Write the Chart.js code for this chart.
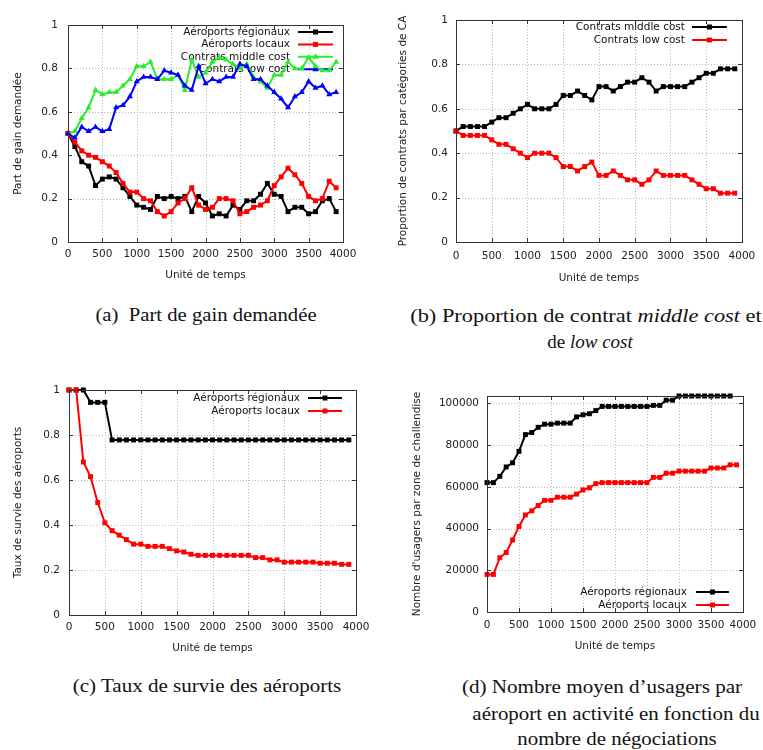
<!DOCTYPE html>
<html>
<head>
<meta charset="utf-8">
<script src="https://cdn.jsdelivr.net/npm/chart.js@4.4.0/dist/chart.umd.min.js"></script>
<style>
body { margin: 0; background: #fff; }
#page { position: relative; width: 763px; height: 750px; overflow: hidden; background: #fff; }
canvas { position: absolute; }
.cap { position: absolute; font-family: "Liberation Serif", "Times New Roman", serif; font-size: 19px;
       white-space: nowrap; color: #111; transform: translate(-50%, -50%); }
</style>
</head>
<body>
<div id="page">
  <div class="cap" data-w="221" style="left:206px; top:315px;">(a)&nbsp; Part de gain demandée</div>
  <div class="cap" data-w="352" style="left:586px; top:316px;">(b) Proportion de contrat <i>middle cost</i> et</div>
  <div class="cap" data-w="86" style="left:590px; top:342px;">de <i>low cost</i></div>
  <div class="cap" data-w="269" style="left:207px; top:686px;">(c) Taux de survie des aéroports</div>
  <div class="cap" data-w="280" style="left:602px; top:687px;">(d) Nombre moyen d’usagers par</div>
  <div class="cap" data-w="287" style="left:616px; top:714px;">aéroport en activité en fonction du</div>
  <div class="cap" data-w="200" style="left:617px; top:739px;">nombre de négociations</div>
</div>
<script>
// time steps shared by all four panels
const times = [0, 100, 200, 300, 400, 500, 600, 700, 800, 900,
               1000, 1100, 1200, 1300, 1400, 1500, 1600, 1700, 1800, 1900,
               2000, 2100, 2200, 2300, 2400, 2500, 2600, 2700, 2800, 2900,
               3000, 3100, 3200, 3300, 3400, 3500, 3600, 3700, 3800, 3900];

// tick labels
const xTicks = [0, 500, 1000, 1500, 2000, 2500, 3000, 3500, 4000];
const fracTicks = [0, 0.2, 0.4, 0.6, 0.8, 1];
const usagerTicks = [0, 20000, 40000, 60000, 80000, 100000];

// (a) part de gain demandee
const regA = [0.50, 0.44, 0.37, 0.35, 0.26, 0.29, 0.30, 0.29, 0.25, 0.21,
              0.17, 0.16, 0.15, 0.21, 0.20, 0.21, 0.20, 0.21, 0.14, 0.21,
              0.18, 0.12, 0.13, 0.12, 0.17, 0.15, 0.19, 0.19, 0.22, 0.27,
              0.22, 0.21, 0.14, 0.16, 0.16, 0.13, 0.14, 0.19, 0.20, 0.14];
const locA = [0.50, 0.46, 0.42, 0.40, 0.39, 0.37, 0.35, 0.32, 0.27, 0.23,
              0.23, 0.20, 0.19, 0.14, 0.12, 0.14, 0.18, 0.20, 0.25, 0.17,
              0.15, 0.16, 0.20, 0.20, 0.19, 0.13, 0.14, 0.16, 0.17, 0.19,
              0.26, 0.30, 0.34, 0.31, 0.27, 0.21, 0.19, 0.20, 0.28, 0.25];
const midA = [0.50, 0.51, 0.57, 0.62, 0.70, 0.68, 0.69, 0.69, 0.72, 0.75,
              0.81, 0.81, 0.83, 0.75, 0.75, 0.75, 0.77, 0.70, 0.84, 0.76,
              0.78, 0.83, 0.85, 0.84, 0.82, 0.80, 0.82, 0.76, 0.74, 0.71,
              0.77, 0.77, 0.83, 0.80, 0.80, 0.85, 0.81, 0.79, 0.79, 0.83];
const lowA = [0.50, 0.48, 0.53, 0.51, 0.53, 0.51, 0.52, 0.62, 0.63, 0.67,
              0.74, 0.76, 0.76, 0.75, 0.79, 0.78, 0.77, 0.72, 0.70, 0.81,
              0.73, 0.75, 0.74, 0.76, 0.76, 0.82, 0.81, 0.75, 0.75, 0.72,
              0.69, 0.66, 0.62, 0.67, 0.69, 0.74, 0.71, 0.72, 0.68, 0.69];

// (b) proportion de contrats
const midB = [0.50, 0.52, 0.52, 0.52, 0.52, 0.54, 0.56, 0.56, 0.58, 0.60,
              0.62, 0.60, 0.60, 0.60, 0.62, 0.66, 0.66, 0.68, 0.66, 0.64,
              0.70, 0.70, 0.68, 0.70, 0.72, 0.72, 0.74, 0.72, 0.68, 0.70,
              0.70, 0.70, 0.70, 0.72, 0.74, 0.76, 0.76, 0.78, 0.78, 0.78];
const lowB = [0.50, 0.48, 0.48, 0.48, 0.48, 0.46, 0.44, 0.44, 0.42, 0.40,
              0.38, 0.40, 0.40, 0.40, 0.38, 0.34, 0.34, 0.32, 0.34, 0.36,
              0.30, 0.30, 0.32, 0.30, 0.28, 0.28, 0.26, 0.28, 0.32, 0.30,
              0.30, 0.30, 0.30, 0.28, 0.26, 0.24, 0.24, 0.22, 0.22, 0.22];

// (c) taux de survie
const regC = [1, 1, 1, 0.945, 0.945, 0.945, 0.778, 0.778, 0.778, 0.778,
              0.778, 0.778, 0.778, 0.778, 0.778, 0.778, 0.778, 0.778, 0.778, 0.778,
              0.778, 0.778, 0.778, 0.778, 0.778, 0.778, 0.778, 0.778, 0.778, 0.778,
              0.778, 0.778, 0.778, 0.778, 0.778, 0.778, 0.778, 0.778, 0.778, 0.778];
const locC = [1, 1, 0.68, 0.615, 0.50, 0.41, 0.375, 0.355, 0.335, 0.315,
              0.315, 0.305, 0.305, 0.305, 0.295, 0.285, 0.28, 0.27, 0.265, 0.265,
              0.265, 0.265, 0.265, 0.265, 0.265, 0.265, 0.255, 0.255, 0.245, 0.245,
              0.235, 0.235, 0.235, 0.235, 0.235, 0.23, 0.23, 0.23, 0.225, 0.225];

// (d) nombre d'usagers (regionaux stops at 3800)
const regD = [62000, 62000, 65000, 69500, 71500, 77000, 85000, 86000, 88500, 90000,
              90000, 90500, 90500, 90500, 93500, 94500, 95000, 96500, 98500, 98500,
              98500, 98500, 98500, 98500, 98500, 98500, 99000, 99000, 101500, 101500,
              103500, 103500, 103500, 103500, 103500, 103500, 103500, 103500, 103500, null];
const locD = [18000, 18000, 26000, 28500, 34500, 41000, 46500, 48500, 51000, 53500,
              53500, 55000, 55000, 55000, 56500, 58500, 59500, 61500, 62000, 62000,
              62000, 62000, 62000, 62000, 62000, 62000, 64500, 64500, 66500, 66500,
              67500, 67500, 67500, 67500, 67500, 69000, 69000, 69000, 70500, 70500];

const xTitle = 'Unité de temps';
const FONT = '"DejaVu Sans", Verdana, sans-serif';
const FSIZE = 10.5;
const LH = FSIZE * 1.2;

Chart.defaults.font.family = FONT;
Chart.defaults.font.size = FSIZE;
Chart.defaults.color = '#222';

const BLACK = '#000000', RED = '#ff0000', GREEN = '#2aee2a', BLUE = '#0000ff';

// stretch the captions to the width they have in the scan
document.querySelectorAll('.cap').forEach(el => {
  const k = Number(el.dataset.w) / el.offsetWidth;
  el.style.transform = 'translate(-50%, -50%) scaleX(' + k.toFixed(3) + ')';
});

function marker(ctx, style, x, y, color) {
  ctx.fillStyle = color;
  ctx.beginPath();
  if (style === 'triangle') {
    ctx.moveTo(x, y - 3.5);
    ctx.lineTo(x + 3.2, y + 2);
    ctx.lineTo(x - 3.2, y + 2);
    ctx.closePath();
  } else {
    ctx.rect(x - 2.5, y - 2.5, 5, 5);
  }
  ctx.fill();
}

// gnuplot look: dotted grid, key with sample on the right, full border with inner ticks
const gnuFrame = {
  id: 'gnuFrame',
  beforeDatasetsDraw(chart, args, opts) {
    const {ctx, chartArea: a} = chart;
    const sx = chart.scales.x, sy = chart.scales.y;
    ctx.save();
    ctx.strokeStyle = '#b8b8b8';
    ctx.lineWidth = 1;
    ctx.setLineDash([1, 2]);
    ctx.beginPath();
    sx.ticks.forEach(t => {
      const px = Math.round(sx.getPixelForValue(t.value)) + 0.5;
      ctx.moveTo(px, a.top); ctx.lineTo(px, a.bottom);
    });
    sy.ticks.forEach(t => {
      const py = Math.round(sy.getPixelForValue(t.value)) + 0.5;
      ctx.moveTo(a.left, py); ctx.lineTo(a.right, py);
    });
    ctx.stroke();
    ctx.setLineDash([]);

    const lg = opts.legend;
    ctx.font = FSIZE + 'px ' + FONT;
    ctx.textAlign = 'right';
    ctx.textBaseline = 'middle';
    chart.data.datasets.forEach((ds, i) => {
      const yy = lg.bottom != null ? a.bottom - lg.bottom + i * lg.dy : a.top + lg.top + i * lg.dy;
      ctx.fillStyle = '#111';
      ctx.fillText(ds.label, a.right + lg.dx, yy);
      ctx.strokeStyle = ds.borderColor;
      ctx.lineWidth = 2;
      ctx.beginPath();
      ctx.moveTo(a.right + lg.s1, yy);
      ctx.lineTo(a.right + lg.s2, yy);
      ctx.stroke();
      marker(ctx, ds.pointStyle, a.right + (lg.s1 + lg.s2) / 2, yy, ds.borderColor);
    });
    ctx.restore();
  },
  afterDatasetsDraw(chart) {
    const {ctx, chartArea: a} = chart;
    const sx = chart.scales.x, sy = chart.scales.y;
    ctx.save();
    ctx.strokeStyle = '#333';
    ctx.lineWidth = 1;
    ctx.beginPath();
    sx.ticks.forEach(t => {
      const px = Math.round(sx.getPixelForValue(t.value)) + 0.5;
      ctx.moveTo(px, a.bottom); ctx.lineTo(px, a.bottom - 4);
      ctx.moveTo(px, a.top); ctx.lineTo(px, a.top + 4);
    });
    sy.ticks.forEach(t => {
      const py = Math.round(sy.getPixelForValue(t.value)) + 0.5;
      ctx.moveTo(a.left, py); ctx.lineTo(a.left + 4, py);
      ctx.moveTo(a.right, py); ctx.lineTo(a.right - 4, py);
    });
    ctx.stroke();
    ctx.strokeRect(Math.round(a.left) + 0.5, Math.round(a.top) + 0.5,
                   Math.round(a.right - a.left), Math.round(a.bottom - a.top));
    ctx.restore();
  }
};

function series(label, vals, color, style, order) {
  return {
    label: label,
    data: times.map((t, i) => ({x: t, y: vals[i]})),
    borderColor: color,
    backgroundColor: color,
    borderWidth: 2,
    pointStyle: style,
    pointRadius: 3.5,
    pointBorderWidth: 0,
    tension: 0,
    order: order,
    clip: 6
  };
}

const page = document.getElementById('page');

function makeChart(box, area, pos, datasets, yOpts, legend) {
  const cv = document.createElement('canvas');
  cv.width = box.w; cv.height = box.h;
  cv.style.left = box.x + 'px'; cv.style.top = box.y + 'px';
  cv.style.width = box.w + 'px'; cv.style.height = box.h + 'px';
  page.insertBefore(cv, page.firstChild);
  return new Chart(cv, {
    type: 'line',
    data: {datasets: datasets},
    options: {
      responsive: false,
      animation: false,
      devicePixelRatio: 1,
      layout: {padding: {top: area.t - box.y, right: box.x + box.w - area.r, left: 0, bottom: 0}},
      plugins: {legend: {display: false}, tooltip: {enabled: false}, gnuFrame: {legend: legend}},
      scales: {
        x: {
          type: 'linear', min: 0, max: 4000,
          grid: {display: false, drawTicks: false}, border: {display: false},
          ticks: {autoSkip: false, maxRotation: 0, minRotation: 0,
                  padding: pos.xTick - area.b - LH / 2, callback: v => String(v)},
          title: {display: true, text: xTitle, padding: {top: 0, bottom: box.y + box.h - pos.xTitle - LH / 2}},
          afterBuildTicks: s => { s.ticks = xTicks.map(v => ({value: v})); },
          afterFit: s => { s.height = box.y + box.h - area.b; }
        },
        y: {
          type: 'linear', min: 0, max: yOpts.max,
          grid: {display: false, drawTicks: false}, border: {display: false},
          ticks: {padding: area.l - pos.yTick, callback: v => String(v)},
          title: {display: true, text: yOpts.title, padding: {top: pos.yTitle - box.x - LH / 2, bottom: 0}},
          afterBuildTicks: s => { s.ticks = yOpts.ticks.map(v => ({value: v})); },
          afterFit: s => { s.width = area.l - box.x; }
        }
      }
    },
    plugins: [gnuFrame]
  });
}

// (a)
makeChart({x: 0, y: 0, w: 380, h: 290}, {l: 68, t: 25, r: 343, b: 242},
  {yTitle: 18, yTick: 58, xTick: 254, xTitle: 275},
  [series('Aéroports régionaux', regA, BLACK, 'rect', 4),
   series('Aéroports locaux', locA, RED, 'rect', 3),
   series('Contrats middle cost', midA, GREEN, 'triangle', 2),
   series('Contrats low cost', lowA, BLUE, 'triangle', 1)],
  {max: 1, ticks: fracTicks, title: 'Part de gain demandée'},
  {dx: -53, s1: -45, s2: -10, top: 7, dy: 12.4});

// (b)
makeChart({x: 380, y: 0, w: 383, h: 290}, {l: 456, t: 20, r: 742, b: 242},
  {yTitle: 403, yTick: 448, xTick: 256, xTitle: 278},
  [series('Contrats middle cost', midB, BLACK, 'rect', 2),
   series('Contrats low cost', lowB, RED, 'rect', 1)],
  {max: 1, ticks: fracTicks, title: 'Proportion de contrats par catégories de CA'},
  {dx: -57, s1: -50, s2: -15, top: 7, dy: 13});

// (c)
makeChart({x: 0, y: 360, w: 380, h: 300}, {l: 69, t: 390, r: 356, b: 615},
  {yTitle: 18, yTick: 60, xTick: 627, xTitle: 648},
  [series('Aéroports régionaux', regC, BLACK, 'rect', 2),
   series('Aéroports locaux', locC, RED, 'rect', 1)],
  {max: 1, ticks: fracTicks, title: 'Taux de survie des aéroports'},
  {dx: -56, s1: -48, s2: -14, top: 8, dy: 13});

// (d)
makeChart({x: 380, y: 360, w: 383, h: 300}, {l: 487, t: 396, r: 744, b: 612},
  {yTitle: 417, yTick: 479, xTick: 625, xTitle: 646},
  [series('Aéroports régionaux', regD, BLACK, 'rect', 2),
   series('Aéroports locaux', locD, RED, 'rect', 1)],
  {max: 103500, ticks: usagerTicks, title: 'Nombre d\'usagers par zone de challendise'},
  {dx: -56, s1: -47, s2: -14, bottom: 20, dy: 13});
</script>
</body>
</html>
